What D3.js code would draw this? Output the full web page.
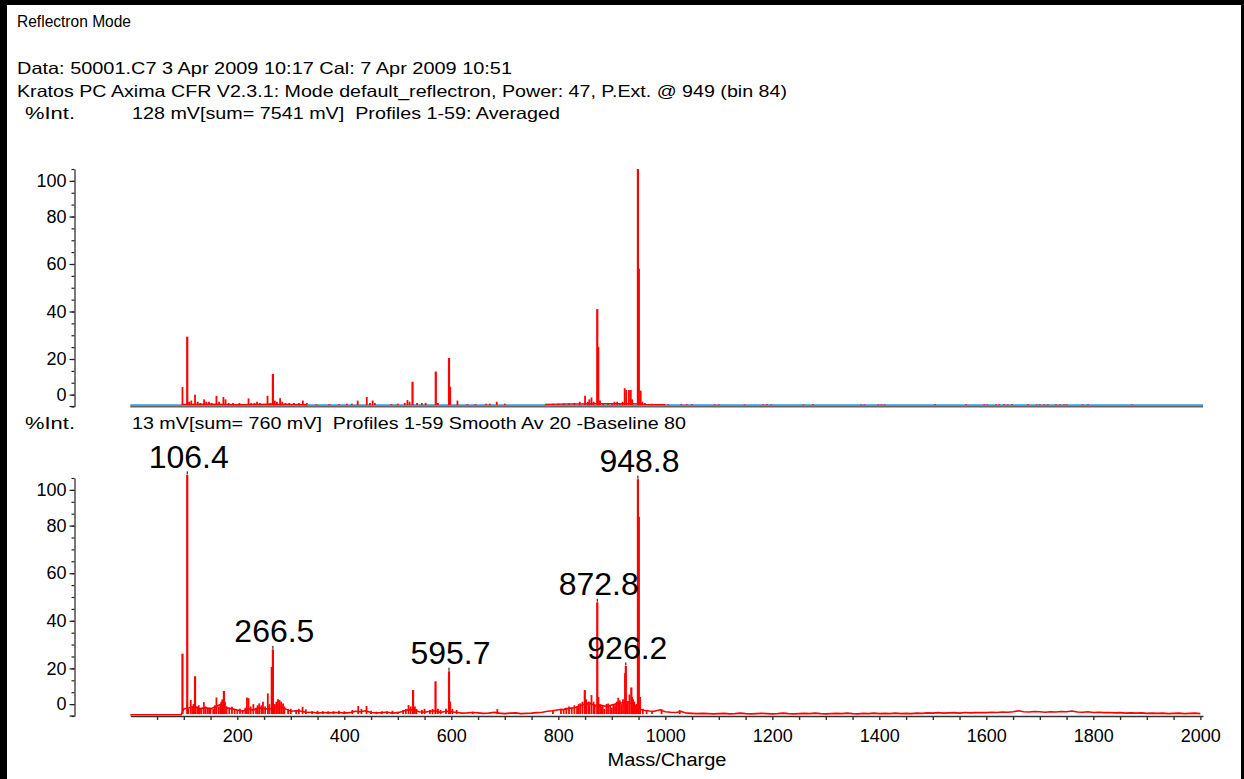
<!DOCTYPE html>
<html><head><meta charset="utf-8">
<script src="https://cdn.jsdelivr.net/npm/d3@7"></script>
<style>
html,body{margin:0;padding:0;background:#fff;}
svg{display:block;}
text{font-family:"Liberation Sans",Arial,Helvetica,sans-serif;fill:#000;white-space:pre;}
</style>
</head><body>
<svg id="c" width="1244" height="779"></svg>
<script>
// ---------- text ----------
const titleText = "Reflectron Mode";
const dataLine = "Data: 50001.C7 3 Apr 2009 10:17 Cal: 7 Apr 2009 10:51";
const instrumentLine = "Kratos PC Axima CFR V2.3.1: Mode default_reflectron, Power: 47, P.Ext. @ 949 (bin 84)";
const yAxisTitle = "%Int.";
const topInfo = "128 mV[sum= 7541 mV]  Profiles 1-59: Averaged";
const bottomInfo = "13 mV[sum= 760 mV]  Profiles 1-59 Smooth Av 20 -Baseline 80";
const xAxisTitle = "Mass/Charge";

// ---------- ticks ----------
const yTickLabels = [0, 20, 40, 60, 80, 100];
const xTickLabels = [200, 400, 600, 800, 1000, 1200, 1400, 1600, 1800, 2000];
const xDomain = [0, 2005];

// ---------- top panel: averaged raw spectrum (m/z, %Int) ----------
const topBaseline = 0.6;
const topPeaks = [
 [97.5,8.2],[106.4,29.4],[110,2],[114,2.5],[121,5],[126,2],[131,1.5],[138,3],[142,2],[147,2],[152,1.5],
 [161,4.5],[166,2],[174,4],[178,3],[184,1.5],[192,1.5],[204,1.5],[221,3.4],[226,1.5],[232,1.5],[237,2],
 [242,1.5],[256.5,4.5],[262,1.5],[266.5,13.7],[270,2.5],[274,2],[280,3.5],[284,2],[290,1.5],[297,1.5],
 [306,1.5],[315,1.5],[322.5,2.5],[330,1.5],[348,1],[372,1],[390,1],[405,1.2],[414,1.2],[425,2.5],
 [442,4],[448,1.5],[453,2.5],[457,1.5],[488,1],[500,1.2],[513,1.5],[518,2.7],[522,2],[527.5,10.4],
 [536,1.5],[545,1.5],[552,1.5],[571,14.7],[575,1.5],[595.7,20.4],[598,8.3],[611.5,2.5],[630,1],
 [645,1],[665,1.2],[672,1.2],[685,2],[700,1.2],[790,1.2],[800,1.2],[810,1.3],[820,1.3],[830,1.5],
 [840,2],[850,4.5],[855,2],[858,3],[862,3.8],[866,2],[872.8,41],[874.5,25],[878,2.5],[884,1.5],
 [893,1.5],[900,1.5],[905,2],[910,2],[915,1.5],[920,2],[924,7.7],[927,7],[932,7],[935.5,7],[938,3],
 [948.8,100],[950.5,58],[954,6.7],[957,2],[962,1.5],[975,1.2],[990,1],[1005,1],[1030,1],[1040,0.9],
 [1050,0.9],[1092,0.9],[1100,0.9],[1148,0.9],[1183,0.9],[1190,0.9],[1198,0.9],[1258,0.9],[1276,0.9],
 [1366,0.9],[1372,0.9],[1398,0.9],[1404,0.9],[1410,0.9],[1504,0.9],[1562,0.9],[1596,0.9],[1602,0.9],
 [1618,0.9],[1624,0.9],[1633,0.9],[1640,0.9],[1648,0.9],[1678,0.9],[1694,0.9],[1700,0.9],[1708,0.9],
 [1715,0.9],[1730,0.9],[1738,0.9],[1745,0.9],[1750,0.9],[1780,0.9],[1790,0.9],[1873,0.9]
];
const topFloor1 = [[96,0.9],[150,1.0],[200,0.8],[260,1.0],[330,0.8]];
const topFloor2 = [[775,0.9],[800,1.0],[820,1.1],[840,1.1],[860,1.2],[900,1.2],[940,1.2],[960,0.9],[1000,0.8]];

// ---------- bottom panel: smoothed, baseline-subtracted spectrum ----------
const bottomLead = [[0,0.5],[95,0.5]];
const floorStart = 100, floorStep = 10;
const bottomFloor = [
 3,3.5,4,3,3.5,3,4,5,3.5,3, 2.5,2,3,2.5,3.5,3,3,3.5,4,3, 2,2.2,2,1.5,1.6,1.2,1.5,1.3,1.4,1.5,
 1.2,1.4,2,1.8,2.2,1.5,1.3,1.4,1.6,1.2, 1.4,2,2.6,2.5,1.8,1.6,2,2.2,1.5,2, 1.8,1.5,1.2,1.3,1.5,1.3,1.1,1.2,1.5,1.2,
 1.0,1.2,1.3,1.0,1.1,1.2,1.4,1.6,2.0,2.2, 2.6,2.8,3.2,3.5,4.2,5,5.2,4.2,4.5,4, 4.6,5.2,5.6,6,5,3,2.4,2.1,2,2.6,
 1.8,1.6,1.5,1.9,1.2,1.1,1.0,1.1,1.0,0.9, 1.0,1.1,0.9,1.0,1.2,1.0,0.9,1.0,1.1,1.0, 0.9,1.0,1.2,1.0,0.9,1.0,1.1,1.0,1.2,1.0,
 0.9,1.0,1.1,1.0,1.2,1.0,0.9,1.1,1.0,1.2, 1.0,1.1,1.0,1.2,1.0,1.1,1.0,1.2,1.1,1.3, 1.2,1.4,1.2,1.3,1.4,1.2,1.5,1.3,1.4,1.5,
 1.4,1.6,1.5,1.7,1.6,1.8,2.2,1.8,1.7,1.9, 1.8,1.6,1.8,1.7,1.9,1.8,2.1,1.7,1.6,1.8, 1.5,1.6,1.4,1.5,1.3,1.4,1.2,1.3,1.2,1.3,
 1.1,1.2,1.1,1.2,1.0,1.1,1.2,1.0,1.1,1.2, 1.0
];
const bottomPeaks = [
 [97.5,26.2],[106.4,101.3],[108.5,3],[113,6.7],[116,4],[118,5],[121,16.7],[125,4],[128,4.5],[130,3],
 [133,3.5],[137.5,5.8],[141,4],[145,3],[148,3.5],[150,3.5],[155,3],[158,4.5],[161,7.8],[165,4],[168,5],
 [170,6],[172,7],[175,10.5],[177,6],[180,4],[185,3.5],[190,3.9],[195,3],[200,2.5],[205,3],[210,2.5],
 [215,3.5],[218,7.8],[221,7.5],[225,4],[230,5],[235,3.5],[238,4.5],[241,5.3],[245,4.5],[248,6],[252,4],
 [257,9.5],[260,5],[264.5,20.6],[266.5,28],[270,5],[273,6],[276,7],[279,6.7],[282,6],[285.5,5.3],
 [288,4],[295,3],[300,3],[310,2.5],[315,3],[322,3.9],[328,2.8],[340,2],[350,2.2],[360,2],[370,2],
 [380,2],[390,2.2],[400,2],[415,2.5],[426,4.2],[432,3],[441.5,4.2],[450,2.2],[460,1.8],[470,2],[480,2],
 [490,2.2],[500,1.8],[510,2.5],[515,3],[520,4.6],[524,4],[528.5,10.9],[532,4],[535,3],[545,2.5],[550,3],
 [560,2.5],[565,3],[570.5,14.6],[575,3],[580,2.5],[590,3],[595.7,18.8],[598,6],[602,3],[610,2.5],
 [640,1.8],[686,2.9],[720,1.5],[790,2.5],[805,3],[810,2.8],[815,3.5],[820,4],[825,3.5],[830,4.5],
 [835,4],[838,5],[841,5.3],[845,6],[849.5,10.9],[852,7],[856,6],[858,6],[862,8.8],[866,6],[868,5],
 [872.8,47.8],[875,8],[878,5],[880,4],[883,4.5],[886,3],[890,5],[893,5.3],[897,4.5],[900,3.5],[903,5],
 [906,4.5],[909,6],[912,7.7],[915,6.5],[918,5],[921,7],[925,18],[926.2,21],[930,6],[933,9],[936.5,12],
 [938,8],[940,7],[942,6],[944,4],[946,5],[948.8,99.5],[950.5,83.7],[953,8],[958,3],[965,2.5],[975,2],
 [993,2.8],[1027,2.5]
];
const labelledPeaks = ["106.4","266.5","595.7","872.8","926.2","948.8"];

// ---------- drawing ----------
const svg = d3.select("#c");
svg.append("rect").attr("width",1244).attr("height",779).attr("fill","#fff");

const x = d3.scaleLinear().domain(xDomain).range([130.3, 1203]);
const yTop = d3.scaleLinear().domain([0,100]).range([406.5, 169]);
const yBot = d3.scaleLinear().domain([0,100]).range([716, 478]);
const RED = "#ff0000";

// frame
svg.append("rect").attr("x",0).attr("y",0).attr("width",1244).attr("height",5).attr("fill","#000");
svg.append("rect").attr("x",0).attr("y",0).attr("width",7).attr("height",779).attr("fill","#000");
svg.append("rect").attr("x",1241).attr("y",0).attr("width",3).attr("height",779).attr("fill","#000");

// header text
function txt(s, xx, yy, size, len, anchor){
  const t = svg.append("text").attr("x",xx).attr("y",yy).attr("font-size",size).text(s);
  if (len) t.attr("textLength",len).attr("lengthAdjust","spacingAndGlyphs");
  if (anchor) t.attr("text-anchor",anchor);
  return t;
}
txt(titleText, 17, 27, 16.5, 114);
txt(dataLine, 17, 74, 16.5, 495);
txt(instrumentLine, 17, 97, 16.5, 770);
txt(yAxisTitle, 25, 119, 16.5, 50);
txt(topInfo, 132, 119, 16.5, 428);
txt(yAxisTitle, 25, 429, 16.5, 50);
txt(bottomInfo, 132, 429, 16.5, 554);
txt(xAxisTitle, 667, 766, 18, 119, "middle");

// y axes
function yAxis(scale){
  const gMinor = svg.append("g").attr("transform","translate(74.5,0)")
    .call(d3.axisLeft(scale).tickValues(d3.range(0,101,5)).tickSize(3).tickSizeOuter(0).tickFormat(""));
  const gMajor = svg.append("g").attr("transform","translate(74.5,0)")
    .call(d3.axisLeft(scale)
      .tickValues(yTickLabels.map(v => Math.min(Math.max(v,5),95)))
      .tickSize(5).tickPadding(3)
      .tickFormat((d,i) => yTickLabels[i]));
  gMajor.select(".domain").remove();
  [gMinor,gMajor].forEach(g=>{
    g.selectAll("line,path").attr("stroke","#222").attr("stroke-width",1.2);
    g.selectAll("text").attr("font-size",18).attr("font-family","Liberation Sans, Arial, sans-serif").attr("fill","#000");
  });
  svg.append("line").attr("x1",69.5).attr("x2",74.5).attr("y1",scale(0)).attr("y2",scale(0))
    .attr("stroke","#222").attr("stroke-width",1.2);
}
yAxis(yTop);
yAxis(yBot);

// ----- top panel -----
svg.append("line").attr("x1",x(xDomain[0])).attr("x2",x(xDomain[1]))
  .attr("y1",yTop(0)).attr("y2",yTop(0)).attr("stroke","#666").attr("stroke-width",2);
svg.append("line").attr("x1",x(xDomain[0])).attr("x2",x(xDomain[1]))
  .attr("y1",yTop(topBaseline)).attr("y2",yTop(topBaseline)).attr("stroke","#3d9be9").attr("stroke-width",1.6);

const lineTop = d3.line().x(d=>x(d[0])).y(d=>yTop(d[1]));
[topFloor1, topFloor2].forEach(seg=>{
  svg.append("path").attr("d",lineTop(seg)).attr("fill","none").attr("stroke",RED).attr("stroke-width",1.2);
});
svg.append("g").selectAll("line").data(topPeaks).join("line")
  .attr("x1",d=>x(d[0])).attr("x2",d=>x(d[0]))
  .attr("y1",yTop(topBaseline)).attr("y2",d=>yTop(d[1]))
  .attr("stroke",RED).attr("stroke-width",d=>d[1]>10?2.2:1.8);

// ----- bottom panel -----
const xAxisG = svg.append("g").attr("transform",`translate(0,${yBot(0)})`)
  .call(d3.axisBottom(x).tickValues(d3.range(50,2001,50)).tickSize(4).tickSizeOuter(0).tickPadding(9)
    .tickFormat(d => xTickLabels.includes(d) ? d : ""));
xAxisG.selectAll("line,path").attr("stroke","#333").attr("stroke-width",1.4);
xAxisG.selectAll("text").attr("font-size",18).attr("font-family","Liberation Sans, Arial, sans-serif").attr("fill","#000");

const lineBot = d3.line().x(d=>x(d[0])).y(d=>yBot(d[1]));
const floorPts = bottomLead.concat(bottomFloor.map((v,i)=>[floorStart+i*floorStep, v]));
svg.append("path").attr("d",lineBot(floorPts)).attr("fill","none").attr("stroke",RED).attr("stroke-width",1.6);

svg.append("g").selectAll("line").data(bottomPeaks).join("line")
  .attr("x1",d=>x(d[0])).attr("x2",d=>x(d[0]))
  .attr("y1",yBot(0.8)).attr("y2",d=>yBot(d[1]))
  .attr("stroke",RED).attr("stroke-width",d=>d[1]>10?2.2:1.8);

// peak labels
labelledPeaks.forEach(lbl=>{
  const p = bottomPeaks.find(d=>d[0]===+lbl);
  const px = x(p[0]), py = yBot(p[1]);
  svg.append("line").attr("x1",px).attr("x2",px).attr("y1",py-0.5).attr("y2",py-3.5)
    .attr("stroke","#000").attr("stroke-width",1);
  svg.append("text").attr("x",px+1.5).attr("y",py-7).attr("text-anchor","middle")
    .attr("font-size",32).text(lbl);
});
</script>
</body></html>
